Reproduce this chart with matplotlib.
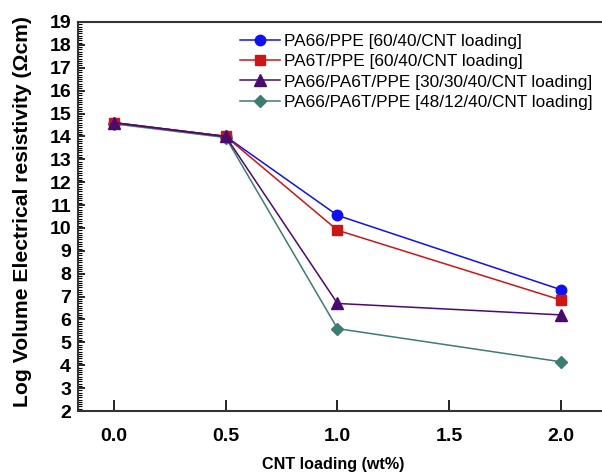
import numpy as np
import matplotlib
matplotlib.use("Agg")
import matplotlib.pyplot as plt
from matplotlib.ticker import MultipleLocator

plt.rcParams['font.family'] = ['Liberation Sans', 'DejaVu Sans']

# Data
cnt = [0.0, 0.5, 1.0, 2.0]
pa66_ppe = [14.6, 14.0, 10.55, 7.3]
pa6t_ppe = [14.6, 14.0, 9.9, 6.85]
blend_30_30 = [14.6, 14.0, 6.7, 6.2]
blend_48_12 = [14.55, 13.95, 5.6, 4.15]

labels = ["PA66/PPE [60/40/CNT loading]",
          "PA6T/PPE [60/40/CNT loading]",
          "PA66/PA6T/PPE [30/30/40/CNT loading]",
          "PA66/PA6T/PPE [48/12/40/CNT loading]"]

fig = plt.figure(figsize=(6.02, 4.75), dpi=100)
# axes spans past the right edge of the figure (right spine is cropped)
ax = fig.add_axes([78/602, 64/475, 550/602, 389/475])

l1, = ax.plot(cnt, pa66_ppe, color="#1010f0", marker="o", markersize=7.5, lw=1.1, zorder=3)
l2, = ax.plot(cnt, pa6t_ppe, color="#cc1515", marker="s", markersize=7, lw=1.1, zorder=4)
l4, = ax.plot(cnt, blend_48_12, color="#3d7b73", marker="D", markersize=6.5, lw=1.1, zorder=2)
l3, = ax.plot(cnt, blend_30_30, color="#4a0a6e", marker="^", markersize=8, lw=1.1, zorder=5)

ax.set_xlim(-0.161, -0.161 + 550/223.5)
ax.set_ylim(2, 19)
ax.xaxis.set_major_locator(MultipleLocator(0.5))
ax.yaxis.set_major_locator(MultipleLocator(1))
ax.yaxis.set_minor_locator(MultipleLocator(0.1))
ax.xaxis.set_major_formatter(matplotlib.ticker.FormatStrFormatter("%.1f"))

ax.tick_params(axis="x", direction="in", length=8, width=1.2, labelsize=14, pad=12)
ax.tick_params(axis="y", which="major", direction="in", length=5, width=1.2, labelsize=14, pad=5)
ax.tick_params(axis="y", which="minor", direction="in", length=3, width=0.8)
ax.tick_params(top=False, right=False)
for lab in ax.get_xticklabels() + ax.get_yticklabels():
    lab.set_fontweight("bold")
for sp in ax.spines.values():
    sp.set_linewidth(1.5)
    sp.set_color("#333333")

fig.text(23/602, 1 - 212/475, "Log Volume Electrical resistivity (\u03a9cm)", rotation=90,
         ha="center", va="center", fontsize=15.2, fontweight="bold")
fig.text(333/602, 1 - 465/475, "CNT loading (wt%)", ha="center", va="center",
         fontsize=11.6, fontweight="bold")

leg = ax.legend([l1, l2, l3, l4], labels, loc="upper left",
                bbox_to_anchor=(240/602, 1 - 34/475), bbox_transform=fig.transFigure,
                frameon=False, fontsize=12.4, handlelength=2.3, handletextpad=0.25,
                labelspacing=0.3, borderaxespad=0, borderpad=0)

fig.savefig("out.png", dpi=100)
